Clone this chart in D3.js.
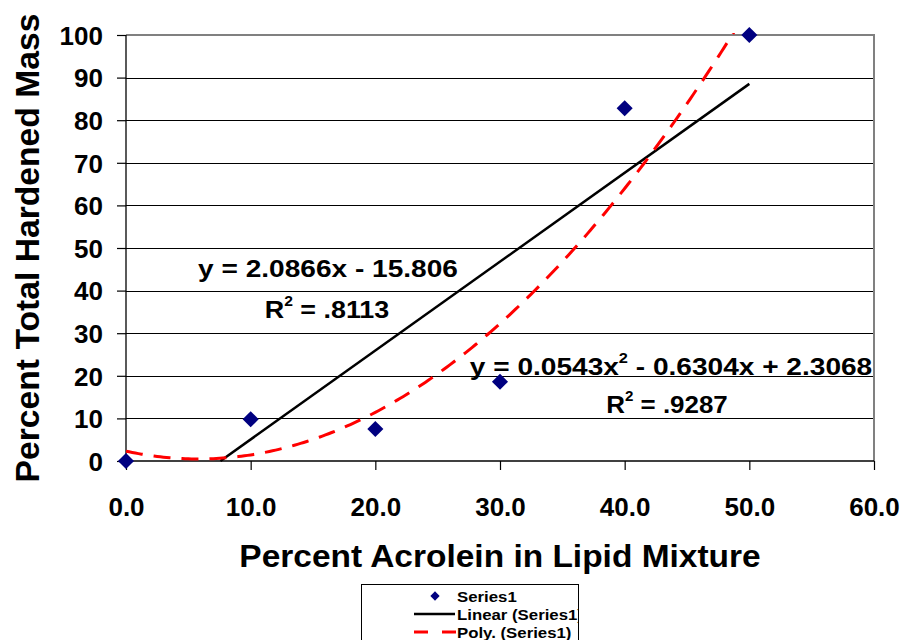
<!DOCTYPE html>
<html><head><meta charset="utf-8">
<script src="https://cdn.jsdelivr.net/npm/d3@7"></script>
<style>body{margin:0;background:#fff}svg{display:block}text{font-family:"Liberation Sans",Arial,sans-serif;font-weight:bold}</style>
</head><body><svg id="c" width="902" height="640"></svg>
<script>
const xValues = [0, 10, 20, 30, 40, 50];
const yValues = [0, 9.8, 7.5, 18.6, 82.8, 100];
const xTicks = [0, 10, 20, 30, 40, 50, 60];
const yTicks = [0, 10, 20, 30, 40, 50, 60, 70, 80, 90, 100];
const linearCoef = [2.0866, -15.806];        // slope, intercept (from chart label)
const polyCoef = [0.0543, -0.6304, 2.3068];   // a, b, c (from chart label)
const legendLabels = ["Series1", "Linear (Series1)", "Poly. (Series1)"];

const svg = d3.select("#c");
const L = 126, R = 874, T = 35, B = 461;
const x = d3.scaleLinear().domain([0, 60]).range([L, R]);
const y = d3.scaleLinear().domain([0, 100]).range([B, T]);
const FONT = '"Liberation Sans",Arial,sans-serif';

// gridlines
svg.append("g").selectAll("line").data(yTicks.filter(d => d > 0 && d < 100)).join("line")
  .attr("x1", L).attr("x2", R).attr("y1", d => Math.round(y(d)) + 0.5).attr("y2", d => Math.round(y(d)) + 0.5)
  .attr("stroke", "#000").attr("stroke-width", 1);
// plot border top/right
svg.append("path").attr("d", `M${L},${T}H${R}V${B}`).attr("fill", "none")
  .attr("stroke", "#808080").attr("stroke-width", 2);

// axes
const yAxis = d3.axisLeft(y).tickValues(yTicks).tickSize(9).tickPadding(14).tickFormat(d3.format("d"));
const gy = svg.append("g").attr("transform", `translate(${L},0)`).call(yAxis);
const xAxis = d3.axisBottom(x).tickValues(xTicks).tickSize(9).tickPadding(28).tickFormat(d3.format(".1f"));
const gx = svg.append("g").attr("transform", `translate(0,${B})`).call(xAxis);
[gx, gy].forEach(g => {
  g.select(".domain").attr("stroke", "#000").attr("stroke-width", 1.3);
  g.selectAll(".tick line").attr("stroke", "#000").attr("stroke-width", 1.2);
  g.selectAll("text").attr("font-size", 26).attr("fill", "#000")
    .style("font-family", FONT).style("font-weight", "bold");
});
gy.select(".domain").attr("d", `M-0,${B}V${T}`);
gx.select(".domain").attr("d", `M${L},0H${R}`);
gy.selectAll("text").attr("dy", "0.36em");

// clip
svg.append("clipPath").attr("id", "clip").append("rect").attr("x", L).attr("y", T - 2).attr("width", R - L).attr("height", B - T + 2);

// linear trendline
const linFn = v => linearCoef[0] * v + linearCoef[1];
const xStart = -linearCoef[1] / linearCoef[0];
const linPts = [xStart, 50].map(v => [x(v), y(linFn(v))]);
svg.append("path").attr("d", d3.line()(linPts)).attr("stroke", "#000").attr("stroke-width", 2.5).attr("fill", "none");

// polynomial trendline
const polyFn = v => polyCoef[0] * v * v + polyCoef[1] * v + polyCoef[2];
const polyPts = d3.range(0, 50.01, 0.25).map(v => [x(v), y(polyFn(v))]);
svg.append("path").attr("d", d3.line()(polyPts)).attr("clip-path", "url(#clip)")
  .attr("stroke", "#ff0000").attr("stroke-width", 3).attr("stroke-dasharray", "17,11").attr("fill", "none");

// markers
const diamond = d3.symbol().type(d3.symbolDiamond2).size(165);
svg.append("g").selectAll("path").data(xValues.map((v, i) => [v, yValues[i]])).join("path")
  .attr("d", diamond).attr("transform", d => `translate(${x(d[0])},${y(d[1])})`)
  .attr("fill", "#000080");

// text helper with horizontal stretch
function label(xp, yp, size, sx, parts, anchor = "middle") {
  const t = svg.append("text").attr("transform", `translate(${xp},${yp}) scale(${sx},1)`)
    .attr("font-size", size).attr("fill", "#000").attr("text-anchor", anchor);
  parts.forEach(p => {
    if (typeof p === "string") t.append("tspan").text(p);
    else t.append("tspan").attr("font-size", p.size).attr("dy", p.dy).text(p.t);
  });
  return t;
}
label(328, 277, 24, 1.17, ["y = 2.0866x - 15.806"]);
label(327, 318, 24, 1.12, ["R", {t: "2", size: 14, dy: -12}, {t: " = .8113", size: 24, dy: 12}]);
label(671, 375, 24, 1.17, ["y = 0.0543x", {t: "2", size: 14, dy: -12}, {t: " - 0.6304x + 2.3068", size: 24, dy: 12}]);
label(667, 413, 24, 1.08, ["R", {t: "2", size: 14, dy: -12}, {t: " = .9287", size: 24, dy: 12}]);

// axis titles
label(500, 567, 31, 1.08, ["Percent Acrolein in Lipid Mixture"]);
svg.append("text").attr("transform", "translate(39,248) rotate(-90) scale(1.02,1)").attr("text-anchor", "middle")
  .attr("font-size", 33).text("Percent Total Hardened Mass");

// legend
const lg = svg.append("g");
lg.append("clipPath").attr("id", "lclip").append("rect").attr("x", 361).attr("y", 584).attr("width", 217).attr("height", 70);
lg.append("rect").attr("x", 361.5).attr("y", 584.5).attr("width", 217).attr("height", 70).attr("fill", "#fff").attr("stroke", "#000").attr("stroke-width", 1);
const ly = [596, 614, 632];
lg.append("path").attr("d", d3.symbol().type(d3.symbolDiamond2).size(55)).attr("transform", `translate(435,${ly[0]})`).attr("fill", "#000080");
lg.append("line").attr("x1", 414).attr("x2", 455).attr("y1", ly[1]).attr("y2", ly[1]).attr("stroke", "#000").attr("stroke-width", 2.5);
lg.append("line").attr("x1", 414).attr("x2", 456).attr("y1", ly[2]).attr("y2", ly[2]).attr("stroke", "#ff0000").attr("stroke-width", 3).attr("stroke-dasharray", "14,14");
lg.append("g").attr("clip-path", "url(#lclip)").selectAll("text").data(legendLabels).join("text")
  .attr("transform", (d, i) => `translate(457,${ly[i] + 6}) scale(1.12,1)`).attr("font-size", 15).text(d => d);
</script></body></html>
